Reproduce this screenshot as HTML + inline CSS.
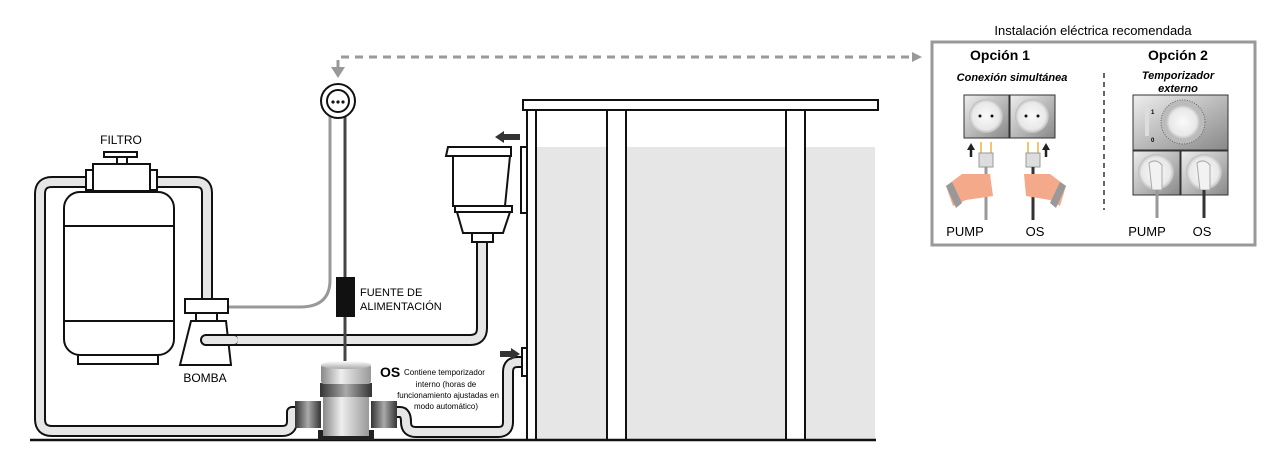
<!DOCTYPE html>
<html><head><meta charset="utf-8"><style>
body{margin:0;background:#fff;}
svg{display:block;font-family:"Liberation Sans",sans-serif;}
</style></head><body>
<svg width="1283" height="456" viewBox="0 0 1283 456" xmlns="http://www.w3.org/2000/svg">
<defs>
<linearGradient id="g1" x1="0" x2="1"><stop offset="0" stop-color="#888"/><stop offset=".4" stop-color="#eee"/><stop offset="1" stop-color="#999"/></linearGradient>
<linearGradient id="g2" x1="0" x2="1"><stop offset="0" stop-color="#333"/><stop offset=".5" stop-color="#aaa"/><stop offset="1" stop-color="#333"/></linearGradient>
<linearGradient id="g3" x1="0" y1="0" x2="0" y2="1"><stop offset="0" stop-color="#fff"/><stop offset="1" stop-color="#aaa"/></linearGradient>
<radialGradient id="rs"><stop offset="0" stop-color="#fafafa"/><stop offset=".8" stop-color="#e8e8e8"/><stop offset="1" stop-color="#bbb"/></radialGradient>
<linearGradient id="pg" x1="0" y1="0" x2="1" y2="1"><stop offset="0" stop-color="#eee"/><stop offset="1" stop-color="#888"/></linearGradient>
</defs>
<rect x="536" y="147" width="339" height="293" fill="#e6e6e6"/>
<g fill="none" stroke-linejoin="round" stroke-linecap="butt">
<path d="M88 182 H52 Q40 182 40 194 V419 Q40 431 52 431 H282 Q292 431 292 421 V412 H300" stroke="#111" stroke-width="12"/>
<path d="M88 182 H52 Q40 182 40 194 V419 Q40 431 52 431 H282 Q292 431 292 421 V412 H300" stroke="#e6e6e6" stroke-width="8"/>
<path d="M152 182 H196 Q207 182 207 193 V301" stroke="#111" stroke-width="12"/>
<path d="M152 182 H196 Q207 182 207 193 V301" stroke="#e6e6e6" stroke-width="8"/>
<path d="M204 340 H470 Q482 340 482 328 V240" stroke="#111" stroke-width="12" stroke-linecap="round"/>
<path d="M204 340 H470 Q482 340 482 328 V240" stroke="#e6e6e6" stroke-width="8" stroke-linecap="round"/>
<path d="M395 412 H400 Q406 412 406 422 Q406 432 416 432 H498 Q508 432 508 422 V372 Q508 362 518 362 H523" stroke="#111" stroke-width="12"/>
<path d="M395 412 H400 Q406 412 406 422 Q406 432 416 432 H498 Q508 432 508 422 V372 Q508 362 518 362 H523" stroke="#e6e6e6" stroke-width="8"/>
<path d="M228 307 H300 Q330 307 330 280 V108" stroke="#999" stroke-width="3"/>
<path d="M345 108 V366" stroke="#444" stroke-width="3"/>
<path d="M338 68 V57 H912" stroke="#999" stroke-width="3" stroke-dasharray="8,6"/>
</g>
<polygon points="331,67 345,67 338,78" fill="#999"/>
<polygon points="912,52 922,57 912,62" fill="#999"/>
<circle cx="338" cy="101" r="17" fill="#fff" stroke="#111" stroke-width="2"/>
<circle cx="338" cy="101" r="11" fill="#fff" stroke="#111" stroke-width="2"/>
<circle cx="333" cy="102" r="1.6" fill="#111"/><circle cx="338" cy="102" r="1.6" fill="#111"/><circle cx="343" cy="102" r="1.6" fill="#111"/>
<rect x="336" y="277" width="19" height="40" fill="#111"/>
<text x="360" y="296" font-size="11">FUENTE DE</text>
<text x="360" y="310" font-size="11">ALIMENTACIÓN</text>
<g stroke="#111" stroke-width="2" fill="#fff">
<rect x="104" y="152" width="33" height="5"/>
<rect x="117" y="157" width="10" height="7"/>
<rect x="86" y="170" width="8" height="20"/>
<rect x="149" y="170" width="8" height="20"/>
<rect x="93" y="164" width="57" height="27"/>
<rect x="78" y="354" width="80" height="10"/>
<rect x="64" y="192" width="110" height="163" rx="16"/>
<line x1="64" y1="226" x2="174" y2="226"/>
<line x1="64" y1="321" x2="174" y2="321"/>
<rect x="196" y="313" width="21" height="9"/>
<polygon points="191,321 226,321 231,365 180,365"/>
<rect x="185" y="299" width="43" height="14"/>
</g>
<path d="M206 340 H232" stroke="#111" stroke-width="12" stroke-linecap="round"/>
<path d="M206 340 H234" stroke="#e6e6e6" stroke-width="8" stroke-linecap="round"/>
<text x="121" y="144" font-size="12" text-anchor="middle">FILTRO</text>
<text x="205" y="382" font-size="12" text-anchor="middle">BOMBA</text>
<g stroke="#111" stroke-width="2" fill="#fff">
<rect x="521" y="147" width="6" height="66"/>
<rect x="472" y="233" width="21" height="9"/>
<polygon points="457,212 510,212 503,233 463,233"/>
<polygon points="453,156 510,156 505,206 453,206"/>
<rect x="455" y="206" width="57" height="6"/>
<path d="M448 147 H511 V156 H446 Z"/>
<rect x="522" y="348" width="5" height="28"/>
<rect x="527" y="110" width="9" height="330"/>
<rect x="607" y="110" width="19" height="330"/>
<rect x="786" y="110" width="19" height="330"/>
<rect x="523" y="100" width="355" height="10"/>
</g>
<path d="M520 137 H502" stroke="#333" stroke-width="6"/><polygon points="495,137 504,131 504,143" fill="#333"/>
<path d="M500 354 H512" stroke="#333" stroke-width="6"/><polygon points="520,354 511,348 511,360" fill="#333"/>
<line x1="30" y1="440" x2="876" y2="440" stroke="#111" stroke-width="2.5"/>
<rect x="295" y="401" width="26" height="27" fill="url(#g2)"/>
<rect x="371" y="401" width="26" height="27" fill="url(#g2)"/>
<rect x="318" y="430" width="56" height="10" fill="#222"/>
<rect x="323" y="396" width="46" height="40" fill="url(#g1)"/>
<rect x="320" y="383" width="52" height="14" fill="url(#g2)"/>
<rect x="321" y="364" width="50" height="20" rx="3" fill="url(#g1)"/>
<ellipse cx="346" cy="365" rx="25" ry="4" fill="url(#g3)"/>
<text x="380" y="377" font-size="14" font-weight="bold">OS</text>
<text x="404" y="375" font-size="8">Contiene temporizador</text>
<text x="446" y="387" font-size="8" text-anchor="middle">interno (horas de</text>
<text x="448" y="398" font-size="8" text-anchor="middle">funcionamiento ajustadas en</text>
<text x="446" y="409" font-size="8" text-anchor="middle">modo automático)</text>
<text x="1093" y="35" font-size="13" text-anchor="middle">Instalación eléctrica recomendada</text>
<rect x="932" y="42" width="323" height="203" fill="#fff" stroke="#999" stroke-width="3"/>
<text x="1000" y="60" font-size="14" font-weight="bold" text-anchor="middle">Opción 1</text>
<text x="1012" y="81" font-size="11" font-weight="bold" font-style="italic" text-anchor="middle">Conexión simultánea</text>
<text x="1178" y="60" font-size="14" font-weight="bold" text-anchor="middle">Opción 2</text>
<text x="1178" y="79" font-size="11" font-weight="bold" font-style="italic" text-anchor="middle">Temporizador</text>
<text x="1178" y="92" font-size="11" font-weight="bold" font-style="italic" text-anchor="middle">externo</text>
<line x1="1104" y1="73" x2="1104" y2="210" stroke="#333" stroke-width="1.5" stroke-dasharray="5,4"/>
<rect x="964" y="95" width="45" height="43" fill="url(#pg)" stroke="#333"/>
<rect x="1010" y="95" width="45" height="43" fill="url(#pg)" stroke="#333"/>
<circle cx="986" cy="116" r="17" fill="url(#rs)"/><circle cx="1032" cy="116" r="17" fill="url(#rs)"/>
<circle cx="980" cy="116" r="1.5" fill="#111"/><circle cx="992" cy="116" r="1.5" fill="#111"/>
<circle cx="1026" cy="116" r="1.5" fill="#111"/><circle cx="1038" cy="116" r="1.5" fill="#111"/>
<path d="M971 157 V148" stroke="#222" stroke-width="2.5"/><polygon points="967,150 975,150 971,143" fill="#222"/>
<path d="M1046 157 V148" stroke="#222" stroke-width="2.5"/><polygon points="1042,150 1050,150 1046,143" fill="#222"/>
<g stroke="#f0b040" stroke-width="1.5"><line x1="981" y1="142" x2="981" y2="154"/><line x1="991" y1="142" x2="991" y2="154"/><line x1="1028" y1="142" x2="1028" y2="154"/><line x1="1038" y1="142" x2="1038" y2="154"/></g>
<rect x="979" y="153" width="14" height="14" fill="#ddd" stroke="#999"/><rect x="1026" y="153" width="14" height="14" fill="#ddd" stroke="#999"/>
<line x1="986" y1="167" x2="986" y2="220" stroke="#999" stroke-width="3"/>
<line x1="1033" y1="167" x2="1033" y2="220" stroke="#333" stroke-width="3"/>
<path d="M946 186 L962 174 L990 174 L993 196 L966 200 L953 206 Z" fill="#f4a98a"/>
<path d="M946 186 L956 208 L962 203 L952 182 Z" fill="#999"/>
<path d="M1066 186 L1050 174 L1024 174 L1026 196 L1050 200 L1060 206 Z" fill="#f4a98a"/>
<path d="M1066 186 L1056 208 L1050 203 L1060 182 Z" fill="#999"/>
<text x="965" y="236" font-size="13" text-anchor="middle">PUMP</text>
<text x="1035" y="236" font-size="13" text-anchor="middle">OS</text>
<rect x="1133" y="95" width="95" height="55" fill="url(#pg)" stroke="#333"/>
<circle cx="1183" cy="122" r="22" fill="#bbb" stroke="#666" stroke-dasharray="1,1.5"/>
<circle cx="1183" cy="122" r="17" fill="url(#rs)"/>
<rect x="1145" y="108" width="4" height="28" fill="#ddd"/>
<text x="1151" y="114" font-size="6" font-weight="bold">1</text>
<text x="1151" y="142" font-size="6" font-weight="bold">0</text>
<rect x="1133" y="151" width="47" height="44" fill="url(#pg)" stroke="#333"/>
<rect x="1181" y="151" width="47" height="44" fill="url(#pg)" stroke="#333"/>
<circle cx="1156" cy="172" r="18" fill="url(#rs)"/><circle cx="1204" cy="172" r="18" fill="url(#rs)"/>
<path d="M1149 163 Q1156 158 1162 165 L1162 190 L1152 190 Z" fill="#f2f2f2" stroke="#aaa"/>
<path d="M1197 163 Q1204 158 1210 165 L1210 190 L1200 190 Z" fill="#f2f2f2" stroke="#aaa"/>
<line x1="1157" y1="190" x2="1157" y2="218" stroke="#999" stroke-width="3"/>
<line x1="1204" y1="190" x2="1204" y2="218" stroke="#333" stroke-width="3"/>
<text x="1147" y="236" font-size="13" text-anchor="middle">PUMP</text>
<text x="1202" y="236" font-size="13" text-anchor="middle">OS</text>
</svg>
</body></html>
